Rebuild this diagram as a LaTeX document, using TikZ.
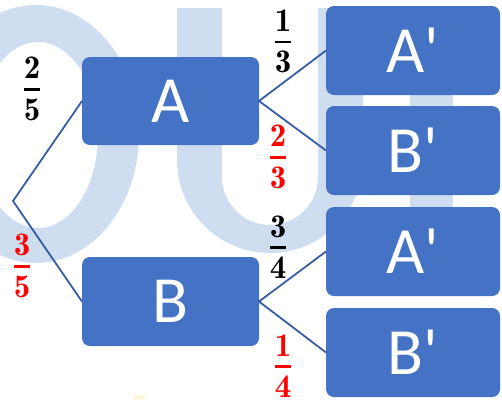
\documentclass[tikz,border=0pt]{standalone}
\usepackage{fontspec}
\newfontfamily\boxfont{Carlito}
\definecolor{boxblue}{RGB}{68,114,196}
\definecolor{linkblue}{RGB}{55,92,163}
\definecolor{wm}{RGB}{207,221,241}
\definecolor{wmy}{RGB}{255,247,222}
\tikzset{
  box/.style={fill=boxblue, rounded corners=8pt, inner sep=0pt},
  boxtext/.style={text=white, font=\boxfont\fontsize{66}{70}\selectfont},
  link/.style={draw=linkblue, line width=1.8pt},
  prob/.style={inner sep=0pt, font=\fontsize{33}{40}\selectfont},
}
\newcommand{\myfrac}[2]{$\displaystyle{\mathbf{#1}\above 2.6pt\mathbf{#2}}$}
\begin{document}
\begin{tikzpicture}[x=1pt,y=-1pt]
\useasboundingbox (0,0) rectangle (502,400);
% watermark
\fill[wm, even odd rule] (36,134) ellipse[x radius=103, y radius=129]
  (38,135) ellipse[x radius=60, y radius=93];
\fill[wm] (177,8) -- (177,160) arc[start angle=180, end angle=0, radius=93] -- (363,8) -- (318,8) -- (318,177) arc[start angle=0, end angle=180, radius=48] -- (222,8) -- cycle;
\fill[wm] (410,8) rectangle (453,250);
\fill[wmy] (133,395) rectangle (145,400);
% boxes
\path[box] (82,57) rectangle (259,145);
\node[boxtext] (A) at (170.5,101) {A};
\path[box] (82,257) rectangle (259,346);
\node[boxtext] (B) at (170.5,301.5) {B};
\path[box] (326,6) rectangle (500,95);
\node[boxtext] (A1) at (413,50.5) {A\symbol{39}};
\path[box] (326,106) rectangle (500,195);
\node[boxtext] (B1) at (413,150.5) {B\symbol{39}};
\path[box] (326,207) rectangle (500,296);
\node[boxtext] (A2) at (413,251.5) {A\symbol{39}};
\path[box] (326,308) rectangle (500,397);
\node[boxtext] (B2) at (413,352.5) {B\symbol{39}};
% anchor points
\coordinate (root) at (13,201);
\coordinate (Aw) at (82,101);
\coordinate (Ae) at (259,101);
\coordinate (Bw) at (82,301.5);
\coordinate (Be) at (259,301.5);
\coordinate (A1w) at (326,50.5);
\coordinate (B1w) at (326,150.5);
\coordinate (A2w) at (326,251.5);
\coordinate (B2w) at (326,352.5);
\draw[link] (Aw) -- (root) -- (Bw);
\draw[link] (A1w) -- (Ae) -- (B1w);
\draw[link] (A2w) -- (Be) -- (B2w);
% probabilities
\node[prob] (p1) at (32,89) {\myfrac{2}{5}};
\node[prob, text=red] (p2) at (22,266) {\myfrac{3}{5}};
\node[prob] (p3) at (283,41.5) {\myfrac{1}{3}};
\node[prob, text=red] (p4) at (278,157) {\myfrac{2}{3}};
\node[prob] (p5) at (278,247) {\myfrac{3}{4}};
\node[prob, text=red] (p6) at (283,366) {\myfrac{1}{4}};
\end{tikzpicture}
\end{document}
